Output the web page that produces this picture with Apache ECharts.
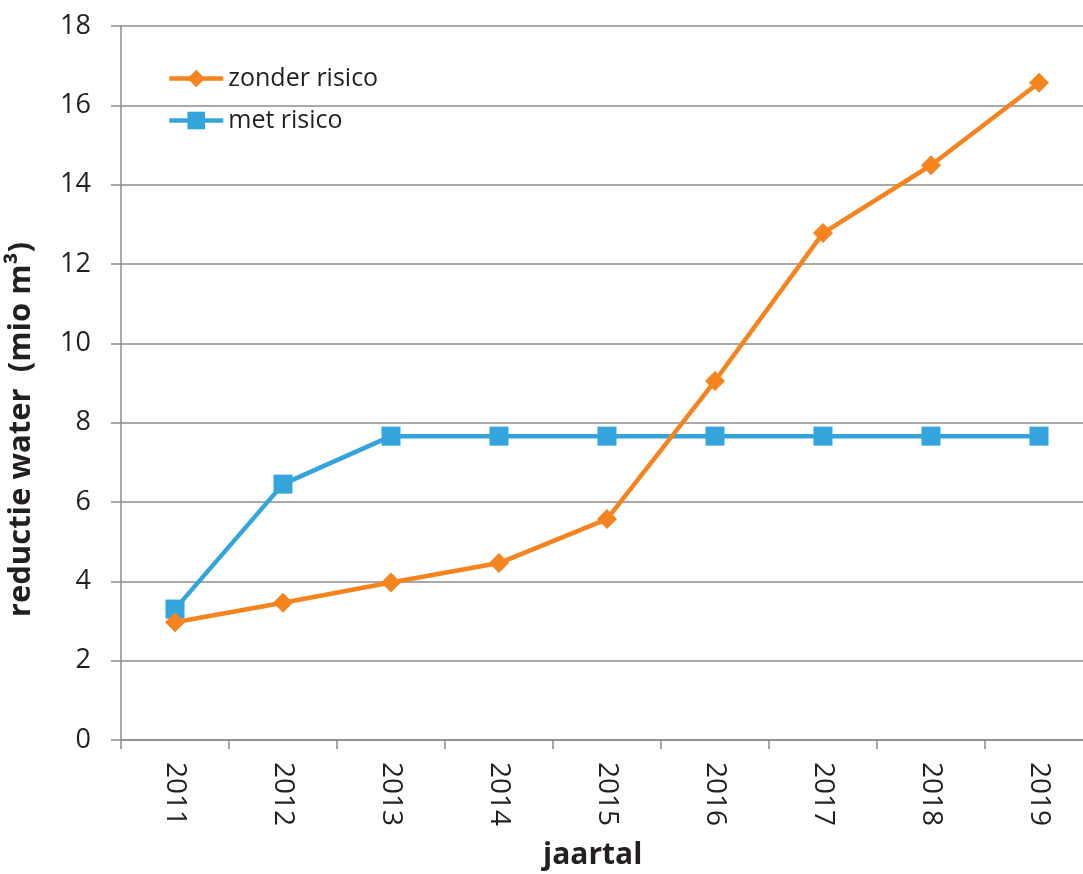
<!DOCTYPE html>
<html>
<head>
<meta charset="utf-8">
<script src="https://cdn.jsdelivr.net/npm/echarts@6/dist/echarts.min.js"></script>
<style>html,body{margin:0;padding:0;background:#fff}#c{width:1083px;height:874px}</style>
</head>
<body>
<div id="c"></div>
<script>
const categories = ['2011','2012','2013','2014','2015','2016','2017','2018','2019'];
const zonderRisico = [2.97, 3.46, 3.97, 4.46, 5.57, 9.05, 12.78, 14.49, 16.57];
const metRisico = [3.30, 6.45, 7.66, 7.66, 7.66, 7.66, 7.66, 7.66, 7.66];
const seriesNames = ['zonder risico', 'met risico'];
const yAxisTitle = 'reductie water  (mio m³)';
const xAxisTitle = 'jaartal';

const FONT = '"Open Sans", sans-serif';
const chart = echarts.init(document.getElementById('c'), null, {renderer: 'canvas'});
chart.setOption({
  animation: false,
  backgroundColor: '#fff',
  grid: {left: 121, width: 972, top: 26, bottom: 134, containLabel: false, outerBoundsMode: 'none'},
  legend: {
    orient: 'vertical', left: 167, top: 66, padding: 0, itemWidth: 54, itemHeight: 22, itemGap: 17,
    textStyle: {fontFamily: FONT, fontSize: 25, color: '#231f20'},
    data: [
      {name: seriesNames[0], itemStyle: {color: '#f5841f'}, lineStyle: {width: 4.5, color: '#f5841f'}},
      {name: seriesNames[1], itemStyle: {color: '#34a4dc'}, lineStyle: {width: 4.5, color: '#34a4dc'}}
    ]
  },
  xAxis: {
    type: 'category', data: categories, boundaryGap: true,
    axisLine: {lineStyle: {color: '#8c8c8c', width: 1.5}},
    axisTick: {show: true, length: 9, alignWithLabel: false, lineStyle: {color: '#8c8c8c', width: 1.5}},
    axisLabel: {rotate: -90, margin: 22, fontFamily: FONT, fontSize: 28, color: '#231f20'},
    splitLine: {show: false}
  },
  yAxis: {
    type: 'value', min: 0, max: 18, interval: 2,
    axisLine: {show: true, lineStyle: {color: '#8c8c8c', width: 1.5}},
    axisTick: {show: true, length: 10, inside: false, lineStyle: {color: '#8c8c8c', width: 1.5}},
    axisLabel: {margin: 30, fontFamily: FONT, fontSize: 27, color: '#231f20'},
    splitLine: {show: true, lineStyle: {color: '#8c8c8c', width: 1.5}}
  },
  graphic: [
    {type: 'text', left: 6, top: 242, rotation: Math.PI/2,
     style: {text: yAxisTitle, fontFamily: FONT, fontSize: 31, fontWeight: 'bold', fill: '#231f20'}},
    {type: 'text', left: 543, top: 840,
     style: {text: xAxisTitle, fontFamily: FONT, fontSize: 30, fontWeight: 'bold', fill: '#231f20'}}
  ],
  series: [
    {name: seriesNames[1], type: 'line', data: metRisico, symbol: 'rect', symbolSize: 19,
     z: 2, color: '#34a4dc', lineStyle: {width: 4.5, color: '#34a4dc'}, itemStyle: {color: '#34a4dc'}},
    {name: seriesNames[0], type: 'line', data: zonderRisico, symbol: 'diamond', symbolSize: [20, 20],
     z: 3, color: '#f5841f', lineStyle: {width: 4.5, color: '#f5841f'}, itemStyle: {color: '#f5841f'}}
  ]
});
</script>
</body>
</html>
